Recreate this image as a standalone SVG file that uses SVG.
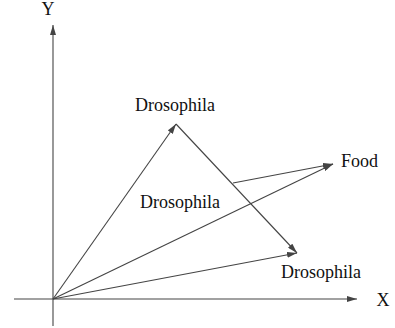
<svg xmlns="http://www.w3.org/2000/svg" width="395" height="328" viewBox="0 0 395 328">
<defs>
<marker id="ah" viewBox="0 0 10 6" refX="10" refY="3" markerWidth="10" markerHeight="6" markerUnits="userSpaceOnUse" orient="auto">
<path d="M0,0 L10,3 L0,6 Z" fill="#444"/>
</marker>
</defs>
<style>
.ln{stroke:#444;stroke-width:1.1;fill:none;marker-end:url(#ah)}
.ax{stroke:#444;stroke-width:1.1;fill:none}
.t{font-family:'Times New Roman','Liberation Serif','DejaVu Serif',serif;font-size:18px;fill:#111}
</style>
<rect width="395" height="328" fill="#fff"/>
<g id="axes">
<line class="ax" x1="53" y1="326" x2="53" y2="25" marker-end="url(#ah)"/>
<line class="ax" x1="14" y1="299" x2="357" y2="299" marker-end="url(#ah)"/>
<text class="t" x="48" y="15" text-anchor="middle">Y</text>
<text class="t" x="383" y="306" text-anchor="middle">X</text>
</g>
<g id="connectors">
<line class="ln" x1="53" y1="299" x2="176" y2="124"/>
<line class="ln" x1="176" y1="124" x2="297" y2="253"/>
<line class="ln" x1="53" y1="299" x2="297" y2="253"/>
<line class="ln" x1="53" y1="299" x2="333" y2="164"/>
<line class="ln" x1="233" y1="183" x2="333" y2="164"/>
</g>
<g id="node-drosophila-top"><text class="t" x="175" y="111" text-anchor="middle">Drosophila</text></g>
<g id="node-drosophila-mid"><text class="t" x="180" y="208" text-anchor="middle">Drosophila</text></g>
<g id="node-drosophila-bottom"><text class="t" x="321" y="278" text-anchor="middle">Drosophila</text></g>
<g id="node-food"><text class="t" x="341" y="167">Food</text></g>
</svg>
